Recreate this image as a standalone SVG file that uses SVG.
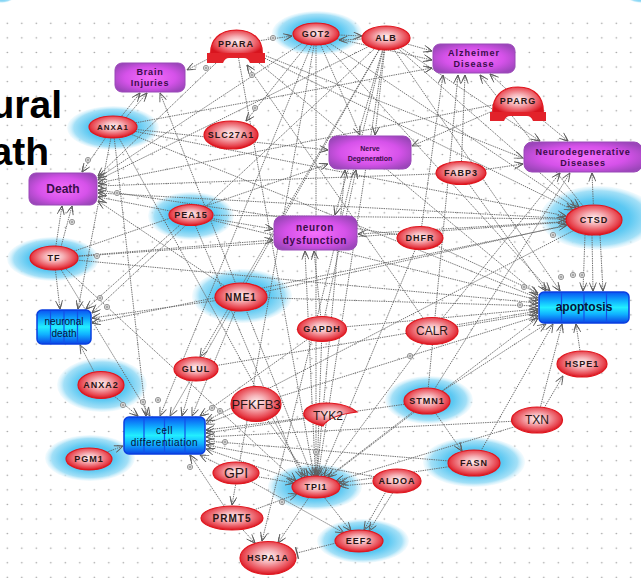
<svg xmlns="http://www.w3.org/2000/svg" width="641" height="578" viewBox="0 0 641 578">
<defs>
<style>
.e{fill:none;stroke:#626262;stroke-width:0.9;stroke-dasharray:1.4 0.9;marker-end:url(#a)}
.tb{fill:none;stroke:#626262;stroke-width:0.9;stroke-dasharray:1.4 0.9;marker-end:url(#t)}
.hl{fill:url(#hg)}
.rn{fill:url(#rg);stroke:#e0161e;stroke-width:1.2}
.pn{fill:url(#pg);stroke:#9a48b8;stroke-width:1}
.bn{fill:url(#bg);stroke:#0a3fe0;stroke-width:1.5}
.sg{stroke:#1450e8;stroke-width:1.2;fill:none}
.s8,.s9,.s10,.r12,.r13,.r14,.pl,.bl{font-family:"Liberation Sans",Arial,sans-serif;text-anchor:middle;dominant-baseline:central;fill:#2a1414}
.s8{font-size:8px;font-weight:bold;letter-spacing:1px}
.s9{font-size:9px;font-weight:bold;letter-spacing:1px}
.s10{font-size:10px;font-weight:bold;letter-spacing:1px}
.r12{font-size:12px}
.r13{font-size:13px}
.r14{font-size:14px}
.pl{fill:#3a0c4a;font-weight:bold}
.bl{fill:#06143a}
.big{font-family:"Liberation Sans",Arial,sans-serif;font-weight:bold;font-size:39px;fill:#000;text-anchor:end}
</style>
<pattern id="dots" x="0.05" y="16" width="14.5" height="14.58" patternUnits="userSpaceOnUse"><circle cx="7.25" cy="7.3" r="0.8" fill="#9a9a9a"/></pattern>
<radialGradient id="hg" cx="0.5" cy="0.5" r="0.5"><stop offset="0" stop-color="#38bbf0"/><stop offset="0.55" stop-color="#5cc8f2"/><stop offset="0.85" stop-color="#a4e0f7"/><stop offset="1" stop-color="#e4f6fd" stop-opacity="0.4"/></radialGradient>
<radialGradient id="rg" cx="0.5" cy="0.45" r="0.55"><stop offset="0" stop-color="#fff2f3"/><stop offset="0.35" stop-color="#f6b2b7"/><stop offset="0.8" stop-color="#e84650"/><stop offset="1" stop-color="#d8141e"/></radialGradient>
<radialGradient id="pg" cx="0.5" cy="0.5" r="0.6"><stop offset="0" stop-color="#f46ffa"/><stop offset="0.6" stop-color="#d652ea"/><stop offset="1" stop-color="#9c46ba"/></radialGradient>
<linearGradient id="bg" x1="0" y1="0" x2="0" y2="1"><stop offset="0" stop-color="#0a52f2"/><stop offset="0.3" stop-color="#10b4ff"/><stop offset="0.5" stop-color="#22eeff"/><stop offset="0.72" stop-color="#10b0ff"/><stop offset="1" stop-color="#0a44e6"/></linearGradient>
<marker id="a" viewBox="0 0 10 8" refX="9.5" refY="4" markerWidth="10" markerHeight="8" markerUnits="userSpaceOnUse" orient="auto"><path d="M1,0.5 L9.5,4 L1,7.5 M4,1.6 L9.5,4 L4,6.4" fill="none" stroke="#5e5e5e" stroke-width="0.9"/></marker>
<marker id="t" viewBox="0 0 4 12" refX="2" refY="6" markerWidth="4" markerHeight="12" markerUnits="userSpaceOnUse" orient="auto"><path d="M2,0 V12" stroke="#5e5e5e" stroke-width="1.5"/></marker>
<g id="p"><circle r="2.6" fill="#fff" stroke="#777" stroke-width="0.8"/><path d="M-1.7,0 H1.7 M0,-1.7 V1.7" stroke="#777" stroke-width="0.8"/></g>
</defs>
<rect width="641" height="578" fill="#fff"/>
<rect x="0" y="16" width="641" height="562" fill="url(#dots)"/>
<text class="big" x="62" y="118">ural</text>
<text class="big" x="49" y="165">ath</text>
<g id="halos">
<ellipse class="hl" cx="2" cy="-6" rx="14" ry="9"/>
<ellipse class="hl" cx="641" cy="-6" rx="16" ry="9"/>
<ellipse class="hl" cx="317" cy="33" rx="45" ry="22"/>
<ellipse class="hl" cx="113" cy="128" rx="46" ry="22"/>
<ellipse class="hl" cx="191" cy="216" rx="43" ry="24"/>
<ellipse class="hl" cx="598" cy="218" rx="58" ry="32"/>
<ellipse class="hl" cx="53" cy="259" rx="46" ry="22"/>
<ellipse class="hl" cx="242" cy="296" rx="50" ry="27"/>
<ellipse class="hl" cx="102" cy="385" rx="45" ry="27"/>
<ellipse class="hl" cx="429" cy="400" rx="44" ry="24"/>
<ellipse class="hl" cx="90" cy="458" rx="45" ry="23"/>
<ellipse class="hl" cx="474" cy="462" rx="51" ry="25"/>
<ellipse class="hl" cx="315" cy="487" rx="47" ry="23"/>
<ellipse class="hl" cx="363" cy="541" rx="46" ry="22"/>
</g>
<g id="edges">
<line class="e" x1="236" y1="44" x2="292" y2="36"/>
<line class="e" x1="316" y1="34" x2="362" y2="36"/>
<line class="e" x1="386" y1="38" x2="339" y2="40"/>
<line class="e" x1="386" y1="38" x2="432" y2="51"/>
<line class="e" x1="316" y1="34" x2="432" y2="60"/>
<line class="e" x1="236" y1="44" x2="187" y2="70"/>
<line class="e" x1="113" y1="127" x2="140" y2="93"/>
<line class="e" x1="118" y1="127" x2="147" y2="93"/>
<line class="e" x1="241" y1="297" x2="160" y2="93"/>
<line class="e" x1="316" y1="34" x2="246" y2="121"/>
<line class="e" x1="432" y1="331" x2="247" y2="65"/>
<line class="e" x1="518" y1="100" x2="490" y2="74"/>
<line class="e" x1="518" y1="100" x2="568" y2="141"/>
<line class="e" x1="461" y1="173" x2="523" y2="164"/>
<line class="e" x1="386" y1="38" x2="375" y2="135"/>
<line class="e" x1="316" y1="34" x2="360" y2="135"/>
<line class="e" x1="518" y1="100" x2="412" y2="146"/>
<line class="e" x1="113" y1="127" x2="82" y2="172"/>
<line class="e" x1="386" y1="38" x2="98" y2="180"/>
<line class="e" x1="316" y1="34" x2="98" y2="178"/>
<line class="e" x1="236" y1="44" x2="98" y2="176"/>
<line class="e" x1="518" y1="100" x2="98" y2="183"/>
<line class="e" x1="461" y1="173" x2="98" y2="186"/>
<line class="e" x1="420" y1="238" x2="98" y2="190"/>
<line class="e" x1="594" y1="220" x2="98" y2="193"/>
<line class="e" x1="191" y1="215" x2="98" y2="197"/>
<line class="e" x1="241" y1="297" x2="98" y2="201"/>
<line class="e" x1="54" y1="258" x2="62" y2="206"/>
<line class="e" x1="58" y1="258" x2="72" y2="206"/>
<line class="e" x1="54" y1="258" x2="60" y2="309"/>
<line class="e" x1="113" y1="127" x2="78" y2="309"/>
<line class="e" x1="191" y1="215" x2="86" y2="309"/>
<line class="e" x1="241" y1="297" x2="92" y2="318"/>
<line class="e" x1="386" y1="38" x2="92" y2="313"/>
<line class="e" x1="594" y1="220" x2="92" y2="323"/>
<line class="e" x1="101" y1="385" x2="80" y2="345"/>
<line class="e" x1="386" y1="38" x2="560" y2="291"/>
<line class="e" x1="316" y1="34" x2="550" y2="291"/>
<line class="e" x1="236" y1="44" x2="538" y2="295"/>
<line class="e" x1="113" y1="127" x2="538" y2="298"/>
<line class="e" x1="191" y1="215" x2="538" y2="300"/>
<line class="e" x1="54" y1="258" x2="538" y2="303"/>
<line class="e" x1="241" y1="297" x2="538" y2="306"/>
<line class="e" x1="420" y1="238" x2="538" y2="293"/>
<line class="e" x1="585" y1="235" x2="583" y2="291"/>
<line class="e" x1="592" y1="235" x2="593" y2="291"/>
<line class="e" x1="600" y1="235" x2="603" y2="291"/>
<line class="e" x1="461" y1="173" x2="546" y2="291"/>
<line class="e" x1="322" y1="329" x2="538" y2="309"/>
<line class="e" x1="432" y1="331" x2="538" y2="313"/>
<line class="e" x1="582" y1="364" x2="576" y2="324"/>
<line class="e" x1="537" y1="420" x2="562" y2="324"/>
<line class="e" x1="427" y1="401" x2="546" y2="324"/>
<line class="e" x1="474" y1="463" x2="553" y2="324"/>
<line class="e" x1="316" y1="487" x2="538" y2="318"/>
<line class="e" x1="196" y1="369" x2="538" y2="311"/>
<line class="e" x1="256" y1="404" x2="538" y2="316"/>
<line class="e" x1="101" y1="385" x2="138" y2="416"/>
<line class="e" x1="89" y1="459" x2="123" y2="446"/>
<line class="e" x1="196" y1="369" x2="182" y2="416"/>
<line class="e" x1="256" y1="404" x2="206" y2="424"/>
<line class="e" x1="236" y1="473" x2="200" y2="455"/>
<line class="e" x1="232" y1="518" x2="190" y2="455"/>
<line class="e" x1="316" y1="487" x2="206" y2="449"/>
<line class="e" x1="330" y1="415" x2="206" y2="430"/>
<line class="e" x1="427" y1="401" x2="206" y2="433"/>
<line class="e" x1="537" y1="420" x2="206" y2="437"/>
<line class="e" x1="474" y1="463" x2="206" y2="441"/>
<line class="e" x1="397" y1="481" x2="206" y2="445"/>
<line class="e" x1="322" y1="329" x2="200" y2="416"/>
<line class="e" x1="241" y1="297" x2="192" y2="416"/>
<line class="e" x1="316" y1="34" x2="160" y2="416"/>
<line class="e" x1="386" y1="38" x2="170" y2="416"/>
<line class="e" x1="594" y1="220" x2="206" y2="421"/>
<line class="e" x1="54" y1="258" x2="150" y2="416"/>
<line class="e" x1="113" y1="127" x2="146" y2="416"/>
<line class="e" x1="316" y1="34" x2="316" y2="476"/>
<line class="e" x1="386" y1="38" x2="318" y2="476"/>
<line class="e" x1="322" y1="329" x2="317" y2="476"/>
<line class="e" x1="241" y1="297" x2="312" y2="476"/>
<line class="e" x1="256" y1="404" x2="308" y2="477"/>
<line class="e" x1="236" y1="473" x2="294" y2="483"/>
<line class="e" x1="232" y1="518" x2="297" y2="494"/>
<line class="e" x1="397" y1="481" x2="340" y2="486"/>
<line class="e" x1="474" y1="463" x2="339" y2="483"/>
<line class="e" x1="427" y1="401" x2="328" y2="477"/>
<line class="e" x1="537" y1="420" x2="336" y2="481"/>
<line class="e" x1="432" y1="331" x2="324" y2="477"/>
<line class="e" x1="236" y1="44" x2="314" y2="476"/>
<line class="e" x1="420" y1="238" x2="321" y2="476"/>
<line class="e" x1="113" y1="127" x2="305" y2="477"/>
<line class="e" x1="191" y1="215" x2="302" y2="478"/>
<line class="e" x1="54" y1="258" x2="296" y2="481"/>
<line class="e" x1="316" y1="487" x2="278" y2="543"/>
<line class="e" x1="232" y1="518" x2="255" y2="543"/>
<line class="tb" x1="336" y1="543" x2="297" y2="553"/>
<line class="e" x1="392" y1="481" x2="364" y2="530"/>
<line class="e" x1="400" y1="481" x2="369" y2="531"/>
<line class="e" x1="236" y1="473" x2="344" y2="533"/>
<line class="e" x1="316" y1="487" x2="351" y2="531"/>
<line class="e" x1="322" y1="329" x2="314" y2="251"/>
<line class="e" x1="316" y1="487" x2="305" y2="251"/>
<line class="e" x1="386" y1="38" x2="335" y2="215"/>
<line class="e" x1="191" y1="215" x2="273" y2="229"/>
<line class="e" x1="54" y1="258" x2="273" y2="240"/>
<line class="e" x1="594" y1="220" x2="358" y2="234"/>
<line class="e" x1="316" y1="487" x2="345" y2="170"/>
<line class="e" x1="322" y1="329" x2="356" y2="170"/>
<line class="e" x1="113" y1="127" x2="328" y2="150"/>
<line class="e" x1="54" y1="258" x2="328" y2="164"/>
<line class="e" x1="420" y1="238" x2="443" y2="75"/>
<line class="e" x1="461" y1="173" x2="465" y2="75"/>
<line class="e" x1="427" y1="401" x2="458" y2="75"/>
<line class="e" x1="594" y1="220" x2="480" y2="75"/>
<line class="e" x1="113" y1="127" x2="432" y2="68"/>
<line class="e" x1="594" y1="220" x2="592" y2="173"/>
<line class="e" x1="432" y1="331" x2="560" y2="173"/>
<line class="e" x1="427" y1="401" x2="570" y2="173"/>
<line class="e" x1="236" y1="44" x2="523" y2="158"/>
<line class="e" x1="386" y1="38" x2="540" y2="141"/>
<line class="e" x1="113" y1="127" x2="566" y2="216"/>
<line class="e" x1="191" y1="215" x2="566" y2="219"/>
<line class="e" x1="241" y1="297" x2="567" y2="225"/>
<line class="e" x1="54" y1="258" x2="567" y2="222"/>
<line class="e" x1="316" y1="34" x2="576" y2="208"/>
<line class="e" x1="386" y1="38" x2="579" y2="207"/>
<line class="e" x1="236" y1="44" x2="573" y2="210"/>
<line class="e" x1="537" y1="420" x2="563" y2="376"/>
<line class="e" x1="427" y1="401" x2="462" y2="451"/>
<line class="e" x1="386" y1="38" x2="200" y2="357"/>
<line class="e" x1="316" y1="34" x2="232" y2="505"/>
<line class="e" x1="386" y1="38" x2="262" y2="541"/>
<use href="#p" x="273" y="38"/>
<use href="#p" x="206" y="68"/>
<use href="#p" x="252" y="75"/>
<use href="#p" x="255" y="108"/>
<use href="#p" x="88" y="160"/>
<use href="#p" x="117" y="193"/>
<use href="#p" x="72" y="222"/>
<use href="#p" x="97" y="256"/>
<use href="#p" x="100" y="298"/>
<use href="#p" x="107" y="307"/>
<use href="#p" x="524" y="287"/>
<use href="#p" x="520" y="305"/>
<use href="#p" x="561" y="277"/>
<use href="#p" x="573" y="275"/>
<use href="#p" x="582" y="275"/>
<use href="#p" x="553" y="235"/>
<use href="#p" x="410" y="356"/>
<use href="#p" x="143" y="402"/>
<use href="#p" x="158" y="400"/>
<use href="#p" x="123" y="405"/>
<use href="#p" x="212" y="408"/>
<use href="#p" x="220" y="411"/>
<use href="#p" x="225" y="442"/>
<use href="#p" x="190" y="467"/>
<use href="#p" x="316" y="452"/>
<use href="#p" x="282" y="502"/>
</g>
<g id="n-GOT2"><ellipse class="rn" cx="316" cy="34" rx="23" ry="11"/><text class="s9" x="316" y="34">GOT2</text></g>
<g id="n-ALB"><ellipse class="rn" cx="386" cy="38" rx="24" ry="12"/><text class="s9" x="386" y="38">ALB</text></g>
<g id="n-PPARA"><path class="rn" d="M211,56 C209,40 220,30 236.5,30 C253,30 264,40 262,56 Z"/><path d="M207,53 H265 V63 H250 Q248,58 244,58 H229 Q225,58 223,63 H207 Z" fill="#e2222a"/><text class="s9" x="236" y="44">PPARA</text></g>
<g id="n-BrainInjuries"><rect class="pn" x="115" y="63" width="70" height="29" rx="7"/><text class="pl" font-size="9" letter-spacing="0.8" x="150" y="72">Brain</text><text class="pl" font-size="9" letter-spacing="0.8" x="150" y="83">Injuries</text></g>
<g id="n-Alzheimer"><rect class="pn" x="433" y="44" width="82" height="29" rx="7"/><text class="pl" font-size="9" letter-spacing="1" x="474" y="53">Alzheimer</text><text class="pl" font-size="9" letter-spacing="1" x="474" y="64">Disease</text></g>
<g id="n-PPARG"><path class="rn" d="M493,115 C491,97 502,87 518,87 C534,87 545,97 543,115 Z"/><path d="M490,112 H546 V121 H533 Q531,116 527,116 H510 Q506,116 504,121 H490 Z" fill="#e2222a"/><text class="s9" x="518" y="101">PPARG</text></g>
<g id="n-ANXA1"><ellipse class="rn" cx="113" cy="127" rx="24" ry="11"/><text class="s8" x="113" y="127">ANXA1</text></g>
<g id="n-SLC27A1"><ellipse class="rn" cx="231" cy="135" rx="27" ry="14"/><text class="s9" x="231" y="135">SLC27A1</text></g>
<g id="n-NerveDegeneration"><rect class="pn" x="329" y="136" width="82" height="33" rx="8"/><text class="pl" font-size="7" x="370" y="148">Nerve</text><text class="pl" font-size="7" x="370" y="158">Degeneration</text></g>
<g id="n-FABP3"><ellipse class="rn" cx="461" cy="173" rx="25" ry="11.5"/><text class="s9" x="461" y="173">FABP3</text></g>
<g id="n-NeurodegenerativeDiseases"><rect class="pn" x="524" y="142" width="118" height="30" rx="8"/><text class="pl" font-size="9" letter-spacing="0.8" x="583" y="152">Neurodegenerative</text><text class="pl" font-size="9" letter-spacing="0.8" x="583" y="163">Diseases</text></g>
<g id="n-Death"><rect class="pn" x="29" y="173" width="68" height="32" rx="7"/><text class="pl" font-size="12" x="63" y="189">Death</text></g>
<g id="n-PEA15"><ellipse class="rn" cx="191" cy="215" rx="22" ry="10.5"/><text class="s9" x="191" y="215">PEA15</text></g>
<g id="n-neurondysfunction"><rect class="pn" x="274" y="216" width="83" height="34" rx="8"/><text class="pl" font-weight="normal" font-size="10" letter-spacing="0.7" x="315" y="227">neuron</text><text class="pl" font-weight="normal" font-size="10" letter-spacing="0.7" x="315" y="240">dysfunction</text></g>
<g id="n-DHFR"><ellipse class="rn" cx="420" cy="238" rx="23" ry="11.5"/><text class="s9" x="420" y="238">DHFR</text></g>
<g id="n-CTSD"><ellipse class="rn" cx="594" cy="220" rx="28" ry="15"/><text class="s9" x="594" y="220">CTSD</text></g>
<g id="n-TF"><ellipse class="rn" cx="54" cy="258" rx="24" ry="12"/><text class="s9" font-size="11" x="54" y="258">TF</text></g>
<g id="n-NME1"><ellipse class="rn" cx="241" cy="297" rx="26" ry="14"/><text class="s10" x="241" y="297">NME1</text></g>
<g id="n-apoptosis"><rect class="bn" x="539" y="292" width="90" height="31" rx="5"/><path class="sg" d="M561.5,293 V322 M584,293 V322 M606.5,293 V322"/><text class="bl" font-size="12" font-weight="bold" x="584" y="307">apoptosis</text></g>
<g id="n-neuronaldeath"><rect class="bn" x="37" y="310" width="54" height="34" rx="5"/><path class="sg" d="M50.5,311 V343 M64,311 V343 M77.5,311 V343"/><text class="bl" font-size="10" x="64" y="321">neuronal</text><text class="bl" font-size="10" x="64" y="333">death</text></g>
<g id="n-GAPDH"><ellipse class="rn" cx="322" cy="329" rx="24.5" ry="12.5"/><text class="s9" font-size="8.5" x="322" y="329">GAPDH</text></g>
<g id="n-CALR"><ellipse class="rn" cx="432" cy="331" rx="26" ry="13.5"/><text class="r12" x="432" y="331">CALR</text></g>
<g id="n-HSPE1"><ellipse class="rn" cx="582" cy="364" rx="25" ry="13"/><text class="s9" x="582" y="364">HSPE1</text></g>
<g id="n-GLUL"><ellipse class="rn" cx="196" cy="369" rx="22" ry="12"/><text class="s9" x="196" y="369">GLUL</text></g>
<g id="n-ANXA2"><ellipse class="rn" cx="101" cy="385" rx="23" ry="13.5"/><text class="s9" x="101" y="385">ANXA2</text></g>
<g id="n-PFKFB3"><ellipse class="rn" cx="256" cy="404" rx="25" ry="17.5"/><text class="r13" x="256" y="404">PFKFB3</text></g>
<g id="n-TYK2"><path class="rn" d="M357,412 C346,402 318,400 307,408 C299,415 306,422 323,426 C327,419 340,414 357,412 Z"/><text class="r12" x="328" y="416">TYK2</text></g>
<g id="n-STMN1"><ellipse class="rn" cx="427" cy="401" rx="23" ry="13"/><text class="s9" x="427" y="401">STMN1</text></g>
<g id="n-TXN"><ellipse class="rn" cx="537" cy="420" rx="25.5" ry="13"/><text class="r12" x="537" y="420">TXN</text></g>
<g id="n-celldifferentiation"><rect class="bn" x="124" y="417" width="81" height="37" rx="5"/><path class="sg" d="M144,418 V453 M164.5,418 V453 M185,418 V453"/><text class="bl" font-size="10" letter-spacing="0.5" x="164.5" y="430">cell</text><text class="bl" font-size="10" letter-spacing="0.5" x="164.5" y="442">differentiation</text></g>
<g id="n-PGM1"><ellipse class="rn" cx="89" cy="459" rx="23" ry="11"/><text class="s9" x="89" y="459">PGM1</text></g>
<g id="n-GPI"><ellipse class="rn" cx="236" cy="473" rx="23" ry="11"/><text class="r14" x="236" y="473">GPI</text></g>
<g id="n-FASN"><ellipse class="rn" cx="474" cy="463" rx="26" ry="13"/><text class="s9" x="474" y="463">FASN</text></g>
<g id="n-TPI1"><ellipse class="rn" cx="316" cy="487" rx="24" ry="11"/><text class="s9" x="316" y="487">TPI1</text></g>
<g id="n-ALDOA"><ellipse class="rn" cx="397" cy="481" rx="24" ry="12"/><text class="s9" x="397" y="481">ALDOA</text></g>
<g id="n-PRMT5"><ellipse class="rn" cx="232" cy="518" rx="31" ry="12"/><text class="s10" x="232" y="518">PRMT5</text></g>
<g id="n-EEF2"><ellipse class="rn" cx="359" cy="541" rx="24" ry="11"/><text class="s9" x="359" y="541">EEF2</text></g>
<g id="n-HSPA1A"><ellipse class="rn" cx="268" cy="558" rx="28" ry="16.5"/><text class="s9" x="268" y="558">HSPA1A</text></g>
</svg>
